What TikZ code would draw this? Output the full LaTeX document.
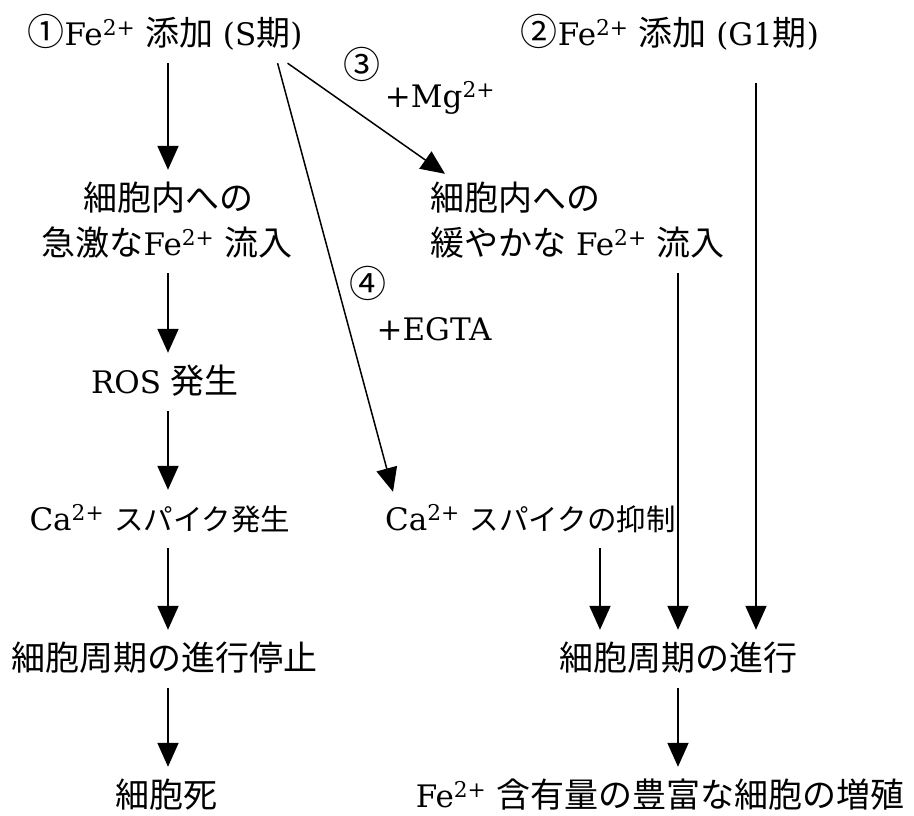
\documentclass[tikz,border=0pt]{standalone}
\usepackage{fontspec}
\setmainfont{DejaVu Serif}
\newfontfamily\jpfont{Noto Sans CJK JP}
\newcommand\J[1]{{\jpfont\fontsize{34}{45}\selectfont #1}}
\newcommand\Js[1]{{\jpfont\fontsize{29.5}{45}\selectfont #1}}
\newcommand\C[1]{{\jpfont\fontsize{37}{45}\selectfont #1}}
\usetikzlibrary{arrows.meta}
\begin{document}
\begin{tikzpicture}[x=1pt,y=-1pt,
  lbl/.style={font=\fontsize{31}{45}\selectfont, inner sep=0pt, text height=26pt, text depth=6pt},
  arr/.style={line width=1.8pt, -{Triangle[width=21pt,length=24pt]}, shorten <=12pt, shorten >=14pt},
  darr/.style={line width=1.5pt, -{Triangle[width=21pt,length=24pt]}}]
\useasboundingbox (0,0) rectangle (914,815);
\fill[white] (0,0) rectangle (914,815);
\coordinate (L) at (168,0);
\coordinate (M) at (600,0);
\coordinate (R1) at (678,0);
\coordinate (R2) at (756,0);
% left column
\node[lbl] (s1) at (165,35) {\C{①}Fe\textsuperscript{2+} \J{添加} (S\J{期})};
\node[lbl] (f1a) at (168,200) {\J{細胞内への}};
\node[lbl] (f1b) at (167,245) {\J{急激な}Fe\textsuperscript{2+} \J{流入}};
\node[lbl] (ros) at (165,383) {ROS \J{発生}};
\node[lbl] (ca1) at (160,520) {Ca\textsuperscript{2+} \Js{スパイク発生}};
\node[lbl] (stop) at (165,660) {\J{細胞周期の進行停止}};
\node[lbl] (death) at (166,797) {\J{細胞死}};
% right side
\node[lbl] (s2) at (670,35) {\C{②}Fe\textsuperscript{2+} \J{添加} (G1\J{期})};
\node[lbl, anchor=west] (f2a) at (430,200) {\J{細胞内への}};
\node[lbl, anchor=west] (f2b) at (430,245) {\J{緩やかな} Fe\textsuperscript{2+} \J{流入}};
\node[lbl, anchor=west] (ca2) at (385,520) {Ca\textsuperscript{2+} \Js{スパイクの抑制}};
\node[lbl] (prog) at (678,660) {\J{細胞周期の進行}};
\node[lbl] (grow) at (660,797) {Fe\textsuperscript{2+} \J{含有量の豊富な細胞の増殖}};
% labels
\node[lbl] (n3) at (362,68) {\C{③}};
\node[lbl] (mg) at (440,97) {+Mg\textsuperscript{2+}};
\node[lbl] (n4) at (368,287) {\C{④}};
\node[lbl] (egta) at (434,330) {+EGTA};
% arrows
\draw[arr] (s1.south -| L) -- (f1a.north -| L);
\draw[arr] (f1b.south -| L) -- (ros.north -| L);
\draw[arr] (ros.south -| L) -- (ca1.north -| L);
\draw[arr] (ca1.south -| L) -- (stop.north -| L);
\draw[arr] (stop.south -| L) -- (death.north -| L);
\draw[darr] ([xshift=-15pt,yshift=-12pt]s1.south east) -- ([xshift=15pt,yshift=10pt]f2a.north west);
\draw[darr] ([xshift=-25pt,yshift=-12pt]s1.south east) -- ([xshift=8pt,yshift=12pt]ca2.north west);
\draw[arr] (f2b.south -| R1) -- (prog.north -| R1);
\draw[arr, shorten <=32pt] (s2.south -| R2) -- (prog.north -| R2);
\draw[arr] (ca2.south -| M) -- (prog.north -| M);
\draw[arr] (prog.south -| R1) -- (grow.north -| R1);
\end{tikzpicture}
\end{document}
